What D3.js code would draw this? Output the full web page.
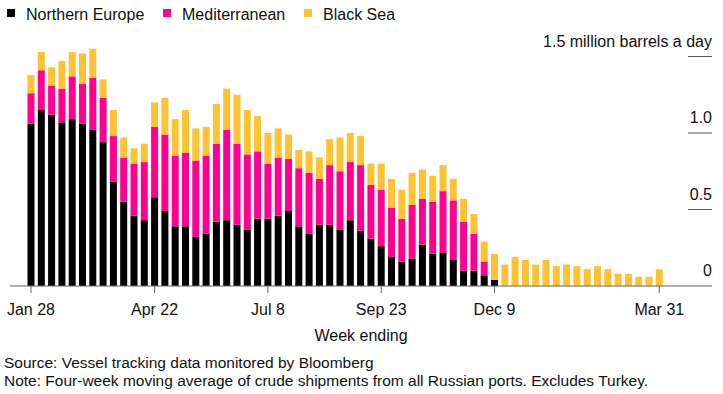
<!DOCTYPE html>
<html>
<head>
<meta charset="utf-8">
<script src="https://cdn.jsdelivr.net/npm/d3@7"></script>
<style>
  body { margin: 0; background: #fff; }
  svg { font-family: "Liberation Sans", Arial, sans-serif; }
</style>
</head>
<body>
<div id="chart"></div>
<script>
// million barrels a day, four-week moving average, week ending Jan 28 (2022) .. Mar 31 (2023)
var northernEurope = [1.06,1.15,1.12,1.07,1.09,1.06,1.02,0.94,0.68,0.55,
  0.46,0.43,0.58,0.49,0.39,0.39,0.32,0.34,0.42,0.43,
  0.40,0.37,0.44,0.44,0.46,0.49,0.39,0.34,0.40,0.40,
  0.37,0.43,0.36,0.31,0.26,0.19,0.16,0.18,0.27,0.21,
  0.22,0.17,0.10,0.10,0.07,0.04,
  0,0,0,0,0,0,0,0,0,0,0,0,0,0,0,0];
var mediterranean = [0.20,0.26,0.19,0.22,0.28,0.26,0.34,0.29,0.30,0.29,
  0.34,0.38,0.46,0.50,0.46,0.48,0.50,0.51,0.51,0.59,
  0.53,0.49,0.44,0.36,0.38,0.34,0.38,0.40,0.30,0.39,
  0.38,0.38,0.43,0.35,0.37,0.32,0.28,0.35,0.30,0.34,
  0.40,0.39,0.32,0.24,0.09,0,
  0,0,0,0,0,0,0,0,0,0,0,0,0,0,0,0];
var blackSea = [0.12,0.12,0.12,0.18,0.16,0.20,0.19,0.12,0.17,0.13,
  0.10,0.12,0.16,0.24,0.24,0.28,0.21,0.19,0.26,0.27,
  0.32,0.29,0.23,0.20,0.19,0.16,0.12,0.14,0.14,0.17,
  0.22,0.19,0.19,0.14,0.17,0.19,0.19,0.21,0.19,0.17,
  0.17,0.14,0.15,0.13,0.13,0.17,
  0.14,0.19,0.17,0.14,0.17,0.13,0.14,0.13,0.11,0.13,0.11,0.08,0.08,0.06,0.06,0.11];
var seriesNames = ["Northern Europe", "Mediterranean", "Black Sea"];
var tickLabels = ["Jan 28", "Apr 22", "Jul 8", "Sep 23", "Dec 9", "Mar 31"];
var yTicks = [0, 0.5, 1.0, 1.5];

var colors = ["#000000", "#ff0090", "#fec232"];
var width = 723, height = 394;

var weeks = d3.range(northernEurope.length).map(function(i) {
  return d3.timeDay.offset(new Date(2022, 0, 28), i * 7);
});
var fmt = d3.timeFormat("%b %-d");

var rows = weeks.map(function(d, i) {
  return { week: d, ne: northernEurope[i], med: mediterranean[i], bs: blackSea[i] };
});

var svg = d3.select("#chart").append("svg")
  .attr("width", width)
  .attr("height", height);

var x = d3.scaleBand()
  .domain(weeks)
  .range([25.85, 664.45])
  .paddingInner(0.32)
  .paddingOuter(0.16);

var y = d3.scaleLinear()
  .domain([0, 1.5])
  .range([286, 56.5]);

// right side gridlines + labels
var grid = svg.append("g");
grid.selectAll("line")
  .data(yTicks.filter(function(d) { return d > 0; }))
  .enter().append("line")
    .attr("x1", 688).attr("x2", 712)
    .attr("y1", function(d) { return y(d); })
    .attr("y2", function(d) { return y(d); })
    .attr("stroke", "#555")
    .attr("stroke-width", 1);
grid.selectAll("text")
  .data(yTicks)
  .enter().append("text")
    .attr("x", 712)
    .attr("y", function(d) { return y(d) - 10; })
    .attr("text-anchor", "end")
    .style("font-size", "16px")
    .attr("fill", "#111")
    .text(function(d) {
      if (d === 0) return "0";
      if (d === 1.5) return "1.5 million barrels a day";
      return d3.format(".1f")(d);
    });

// stacked bars
var stack = d3.stack().keys(["ne", "med", "bs"]);
var layers = stack(rows);

svg.append("g").selectAll("g")
  .data(layers)
  .enter().append("g")
    .attr("fill", function(d, i) { return colors[i]; })
  .selectAll("rect")
  .data(function(d) { return d; })
  .enter().append("rect")
    .attr("x", function(d) { return x(d.data.week); })
    .attr("width", x.bandwidth())
    .attr("y", function(d) { return y(d[1]); })
    .attr("height", function(d) { return y(d[0]) - y(d[1]); });

// x axis
var tickWeeks = weeks.filter(function(d) { return tickLabels.indexOf(fmt(d)) >= 0; });
var xAxis = svg.append("g")
  .attr("transform", "translate(0,286)");
xAxis.append("line")
  .attr("x1", 10).attr("x2", 712)
  .attr("stroke", "#666").attr("stroke-width", 1.2);
xAxis.selectAll(".tick")
  .data(tickWeeks)
  .enter().append("line")
    .attr("x1", function(d) { return x(d) + x.bandwidth() / 2; })
    .attr("x2", function(d) { return x(d) + x.bandwidth() / 2; })
    .attr("y1", 0).attr("y2", 7)
    .attr("stroke", "#666");
xAxis.selectAll("text")
  .data(tickWeeks)
  .enter().append("text")
    .attr("x", function(d) { return x(d) + x.bandwidth() / 2; })
    .attr("y", 29)
    .attr("text-anchor", "middle")
    .style("font-size", "16px")
    .attr("fill", "#111")
    .text(function(d) { return fmt(d); });

svg.append("text")
  .attr("x", 361)
  .attr("y", 341)
  .attr("text-anchor", "middle")
  .style("font-size", "16px")
  .attr("fill", "#111")
  .text("Week ending");

// legend
var legendX = [7, 163, 304];
var legend = svg.append("g");
seriesNames.forEach(function(name, i) {
  legend.append("rect")
    .attr("x", legendX[i]).attr("y", 9)
    .attr("width", 8).attr("height", 8)
    .attr("fill", colors[i]);
  legend.append("text")
    .attr("x", legendX[i] + 19)
    .attr("y", 19.5)
    .style("font-size", "16px")
    .attr("fill", "#111")
    .text(name);
});

// footnotes
svg.append("text")
  .attr("x", 4).attr("y", 368)
  .style("font-size", "15.5px")
  .attr("fill", "#111")
  .text("Source: Vessel tracking data monitored by Bloomberg");
svg.append("text")
  .attr("x", 4).attr("y", 385.5)
  .style("font-size", "15.5px")
  .attr("fill", "#111")
  .text("Note: Four-week moving average of crude shipments from all Russian ports. Excludes Turkey.");
</script>
</body>
</html>
